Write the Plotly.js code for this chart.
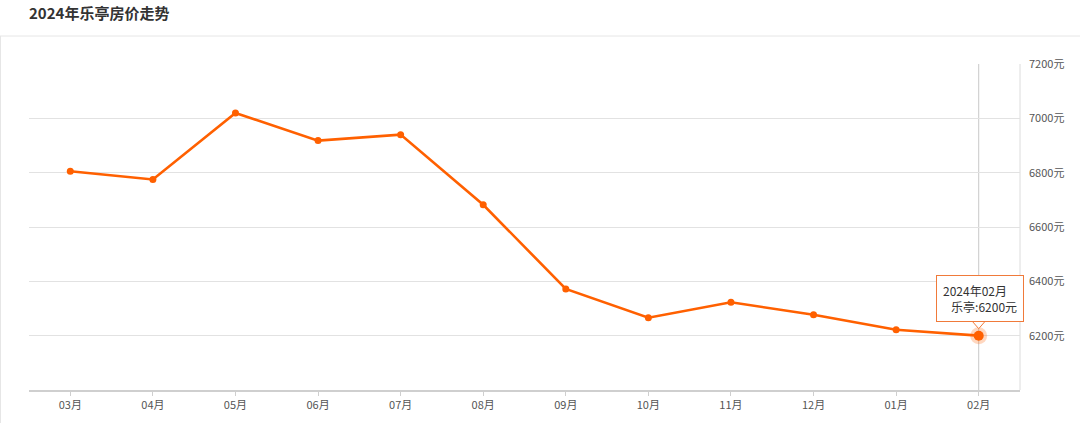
<!DOCTYPE html>
<html>
<head>
<meta charset="utf-8">
<script src="https://cdn.plot.ly/plotly-3.0.1.min.js"></script>
<style>
html,body{margin:0;padding:0;background:#fff;}
#chart{width:1080px;height:423px;}
</style>
</head>
<body>
<div id="chart"></div>
<script>
var months = ["03月","04月","05月","06月","07月","08月","09月","10月","11月","12月","01月","02月"];
var prices = [6805, 6775, 7020, 6918, 6940, 6682, 6372, 6266, 6323, 6277, 6222, 6200];
var yTicks = [6200, 6400, 6600, 6800, 7000, 7200];
var tipLabel = "2024年02月";
var seriesName = "乐亭";
var titleText = "2024年乐亭房价走势";

var last = months.length - 1;
var orange = "#ff6000";
var font = "Noto Sans CJK SC, Noto Sans, sans-serif";

var traces = [
  {
    x: months, y: prices, type: "scatter", mode: "lines+markers",
    line: {color: orange, width: 2.6},
    marker: {color: orange, size: 7},
    hoverinfo: "skip"
  },
  {
    x: [months[last]], y: [prices[last]], type: "scatter", mode: "markers",
    marker: {color: "rgba(255,96,0,0.25)", size: 17},
    hoverinfo: "skip"
  },
  {
    x: [months[last]], y: [prices[last]], type: "scatter", mode: "markers",
    marker: {color: orange, size: 10},
    hoverinfo: "skip"
  }
];

var layout = {
  width: 1080, height: 423,
  margin: {l: 29, r: 60, t: 64, b: 33},
  paper_bgcolor: "#fff", plot_bgcolor: "#fff",
  showlegend: false,
  title: {text: "<b>" + titleText + "</b>", x: 0, xanchor: "left", xref: "paper", y: 0.968, yanchor: "middle",
          font: {family: font, size: 15, color: "#333"}, pad: {l: 0}},
  xaxis: {
    type: "category", range: [-0.5, 11.5], fixedrange: true,
    showgrid: false, zeroline: false,
    showline: true, linecolor: "#cfcfcf", linewidth: 2,
    ticks: "outside", ticklen: 4, tickcolor: "#cfcfcf",
    tickfont: {family: font, size: 11, color: "#555"}
  },
  yaxis: {
    side: "right", range: [6000, 7200], fixedrange: true,
    tickvals: yTicks, ticktext: yTicks.map(function(v){return v + "元";}),
    showgrid: true, gridcolor: "#e2e2e2", gridwidth: 1,
    zeroline: false, showline: false, ticks: "", ticklabelstandoff: 8,
    tickfont: {family: font, size: 11, color: "#555"}
  },
  shapes: [
    {type: "line", xref: "x", yref: "paper", x0: last, x1: last, y0: 0, y1: 1,
     line: {color: "#c8c8c8", width: 1}, layer: "below"},
    {type: "line", xref: "paper", yref: "paper", x0: 1, x1: 1, y0: 0, y1: 1,
     line: {color: "#dcdcdc", width: 1}, layer: "below"},
    {type: "line", xref: "paper", yref: "paper", x0: -29/991, x1: 1 + 60/991, y0: 1 + 28/326, y1: 1 + 28/326,
     line: {color: "#e6e6e6", width: 1}},
    {type: "line", xref: "paper", yref: "paper", x0: -28.5/991, x1: -28.5/991, y0: -33/326, y1: 1 + 28/326,
     line: {color: "#e6e6e6", width: 1}},
    {type: "path", xref: "x", yref: "y", xsizemode: "pixel", ysizemode: "pixel",
     xanchor: last, yanchor: prices[last],
     path: "M -7 15 L 0 7 L 7 15 Z",
     fillcolor: "#ffffff", line: {color: "#f07a3a", width: 1}}
  ],
  annotations: [
    {x: months[last], y: prices[last], xref: "x", yref: "y", showarrow: false,
     xanchor: "center", yanchor: "bottom", xshift: 1, yshift: 14,
     text: tipLabel + "<br>&nbsp;&nbsp;&nbsp;" + seriesName + ":" + prices[last] + "元",
     align: "left", bgcolor: "#ffffff", bordercolor: "#f07a3a", borderwidth: 1, borderpad: 6,
     font: {family: font, size: 12, color: "#333"}}
  ]
};

Plotly.newPlot("chart", traces, layout, {displayModeBar: false, staticPlot: true});
</script>
</body>
</html>
